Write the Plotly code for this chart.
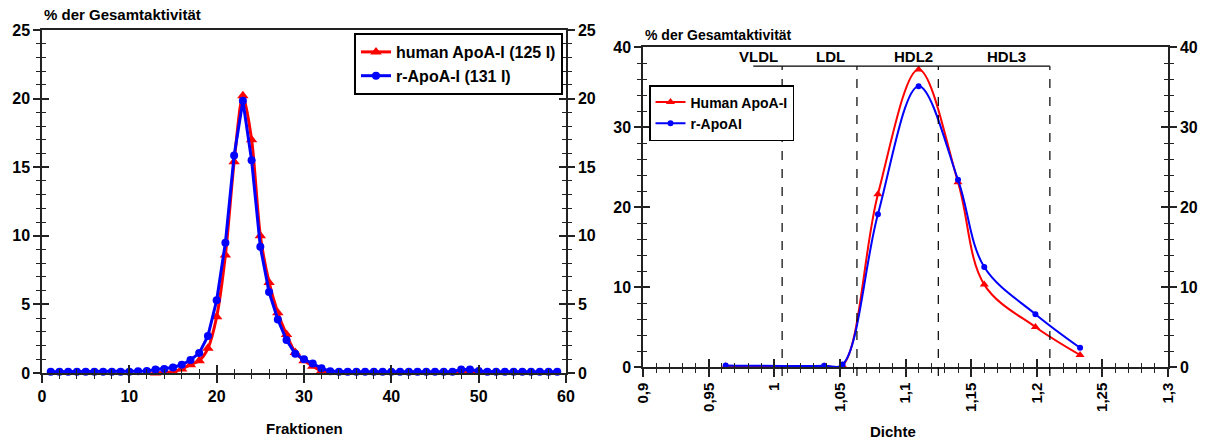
import plotly.graph_objects as go

# ---------------- data ----------------
fractions = list(range(1, 60))
human_125 = [-0.1]*12 + [0.0, 0.05, 0.1, 0.3, 0.6, 0.9, 1.8, 4.1, 8.6, 15.4, 20.2, 17.0, 10.0,
                         6.6, 4.4, 2.8, 1.5, 0.9, 0.5, 0.15] + [-0.05]*15 + [0.05, 0.1, 0.05] + [-0.1]*9
r_131 = [0.1]*10 + [0.12, 0.15, 0.25, 0.3, 0.4, 0.6, 0.95, 1.45, 2.7, 5.3, 9.5, 15.85, 19.85, 15.5,
                    9.2, 5.9, 3.9, 2.4, 1.4, 1.0, 0.7, 0.35, 0.12] + [0.1]*14 + [0.25, 0.25, 0.15] + [0.1]*9

density = [0.963, 1.038, 1.052, 1.079, 1.110, 1.140, 1.160, 1.199, 1.233]
human_apoai = [0.1, 0.1, 0.2, 21.6, 37.2, 23.1, 10.3, 5.0, 1.5]
r_apoai = [0.2, 0.15, 0.3, 19.1, 35.1, 23.4, 12.5, 6.6, 2.4]

class_bounds = [1.006, 1.063, 1.125, 1.21]
class_names = ["VLDL", "LDL", "HDL2", "HDL3"]
class_label_x = [0.988, 1.043, 1.106, 1.177]
bracket_start = 0.984
bracket_y = 37.6
label_y = 38.8

dichte_tickvals = [0.9, 0.95, 1.0, 1.05, 1.1, 1.15, 1.2, 1.25, 1.3]
dichte_ticktext = ["0,9", "0,95", "1", "1,05", "1,1", "1,15", "1,2", "1,25", "1,3"]

# ---------------- layout geometry ----------------
W, H = 1209, 439
FONT = "Liberation Sans"
RED, BLUE = "#ff0000", "#0000ff"
AX = "#222222"

L_dom_x = [42 / W, 566 / W]
L_dom_y = [1 - 373 / H, 1 - 30 / H]
R_dom_x = [643 / W, 1168 / W]
R_dom_y = [1 - 367 / H, 1 - 47 / H]

fig = go.Figure()

# left panel traces
fig.add_trace(go.Scatter(x=fractions, y=human_125, mode="lines+markers", name="human ApoA-I (125 I)",
                         line=dict(color=RED, width=3, shape="spline", smoothing=0.8),
                         marker=dict(symbol="triangle-up", size=10, color=RED),
                         cliponaxis=False, xaxis="x", yaxis="y", legend="legend", legendgroup="a"))
fig.add_trace(go.Scatter(x=fractions, y=r_131, mode="lines+markers", name="r-ApoA-I (131 I)",
                         line=dict(color=BLUE, width=3),
                         marker=dict(symbol="circle", size=8, color=BLUE),
                         cliponaxis=False, xaxis="x", yaxis="y", legend="legend", legendgroup="b"))

# right panel traces
fig.add_trace(go.Scatter(x=density, y=human_apoai, mode="lines+markers", name="Human ApoA-I",
                         line=dict(color=RED, width=2, shape="spline", smoothing=1.0),
                         marker=dict(symbol="triangle-up", size=8, color=RED),
                         cliponaxis=False, xaxis="x2", yaxis="y2", legend="legend2", legendgroup="c"))
fig.add_trace(go.Scatter(x=density, y=r_apoai, mode="lines+markers", name="r-ApoAI",
                         line=dict(color=BLUE, width=2, shape="spline", smoothing=1.0),
                         marker=dict(symbol="circle", size=6, color=BLUE),
                         cliponaxis=False, xaxis="x2", yaxis="y2", legend="legend2", legendgroup="d"))

tickfont = dict(family=FONT, size=16, color="black", weight="bold")
common = dict(showgrid=False, zeroline=False, linecolor=AX, linewidth=1.5, tickcolor=AX,
              tickwidth=1.5, automargin=False)


def xpair(dom, rng, dtick, mdtick, anchor, tickvals=None, ticktext=None, tickangle=None, tsize=16):
    base = dict(common, domain=dom, range=rng, anchor=anchor, showline=True, mirror=True,
                ticks="outside", ticklen=8,
                minor=dict(ticks="outside", ticklen=4, dtick=mdtick, tickcolor=AX, tickwidth=1.2),
                tickfont=dict(tickfont, size=tsize))
    if tickvals is not None:
        base.update(tickmode="array", tickvals=tickvals, ticktext=ticktext)
    else:
        base.update(dtick=dtick, tick0=0)
    if tickangle is not None:
        base["tickangle"] = tickangle
    inner = dict(common, domain=dom, range=rng, anchor=anchor, showline=False,
                 ticks="inside", ticklen=8, dtick=dtick, tick0=rng[0] if tickvals else 0,
                 showticklabels=False,
                 minor=dict(ticks="inside", ticklen=4, dtick=mdtick, tickcolor=AX, tickwidth=1.2))
    return base, inner


def ypair(dom, rng, dtick, mdtick, anchor, side):
    out = dict(common, domain=dom, range=rng, anchor=anchor, side=side, showline=True,
               ticks="outside", ticklen=7, dtick=dtick, tick0=0, tickfont=tickfont,
               minor=dict(ticks="outside", ticklen=4, dtick=mdtick, tickcolor=AX, tickwidth=1.2))
    inn = dict(common, domain=dom, range=rng, anchor=anchor, side=side, showline=False,
               ticks="inside", ticklen=7, dtick=dtick, tick0=0, showticklabels=False,
               minor=dict(ticks="inside", ticklen=4, dtick=mdtick, tickcolor=AX, tickwidth=1.2))
    return out, inn


# left panel axes
lx, lx_in = xpair(L_dom_x, [0, 60], 10, 2, "y")
ly, ly_in = ypair(L_dom_y, [0, 25], 5, 1, "x", "left")
lyr, lyr_in = ypair(L_dom_y, [0, 25], 5, 1, "x", "right")
ly["mirror"] = True
# right panel axes
rx, rx_in = xpair(R_dom_x, [0.9, 1.3], 0.05, 0.01, "y2", dichte_tickvals, dichte_ticktext, -90, 15)
rx_in["dtick"] = 0.05
rx_in["tick0"] = 0.9
ry, ry_in = ypair(R_dom_y, [0, 40], 10, 2, "x2", "left")
ryr, ryr_in = ypair(R_dom_y, [0, 40], 10, 2, "x2", "right")
ry["mirror"] = True

lx_in["overlaying"] = "x"
ly_in["overlaying"] = "y"
lyr["overlaying"] = "y"
lyr_in["overlaying"] = "y"
rx_in["overlaying"] = "x2"
ry_in["overlaying"] = "y2"
ryr["overlaying"] = "y2"
ryr_in["overlaying"] = "y2"

fig.update_layout(
    xaxis=lx, xaxis3=lx_in,
    yaxis=ly, yaxis3=ly_in, yaxis4=lyr, yaxis5=lyr_in,
    xaxis2=rx, xaxis4=rx_in,
    yaxis2=ry, yaxis6=ry_in, yaxis7=ryr, yaxis8=ryr_in,
)

# dummy empty traces so overlay axes are drawn
for xa, ya in [("x3", "y"), ("x", "y3"), ("x", "y4"), ("x", "y5"),
               ("x4", "y2"), ("x2", "y6"), ("x2", "y7"), ("x2", "y8")]:
    fig.add_trace(go.Scatter(x=[], y=[], xaxis=xa, yaxis=ya, showlegend=False, hoverinfo="skip"))

# class boundaries (dashed) and bracket
def y2paper(v):
    return R_dom_y[0] + v / 40 * (R_dom_y[1] - R_dom_y[0])

shapes = []
for b in class_bounds:
    shapes.append(dict(type="line", xref="x2", yref="paper", x0=b, x1=b,
                       y0=R_dom_y[0] - 9 / H, y1=y2paper(bracket_y),
                       line=dict(color="black", width=1.2, dash="dash")))
shapes.append(dict(type="line", xref="x2", yref="y2", x0=bracket_start, x1=class_bounds[-1],
                   y0=bracket_y, y1=bracket_y, line=dict(color="black", width=1.3)))
fig.update_layout(shapes=shapes)

ann = []
for name, xl in zip(class_names, class_label_x):
    ann.append(dict(x=xl, y=label_y, xref="x2", yref="y2", text=name, showarrow=False,
                    font=dict(family=FONT, size=15, color="black", weight="bold")))
# axis titles
ann.append(dict(x=42 / W, y=1 - 15 / H, xref="paper", yref="paper", text="% der Gesamtaktivität",
                showarrow=False, xanchor="left", yanchor="middle",
                font=dict(family=FONT, size=15, color="black", weight="bold")))
ann.append(dict(x=643 / W, y=1 - 35 / H, xref="paper", yref="paper", text="% der Gesamtaktivität",
                showarrow=False, xanchor="left", yanchor="middle",
                font=dict(family=FONT, size=14, color="black", weight="bold")))
ann.append(dict(x=304 / W, y=1 - 428 / H, xref="paper", yref="paper", text="Fraktionen",
                showarrow=False, xanchor="center", yanchor="middle",
                font=dict(family=FONT, size=15, color="black", weight="bold")))
ann.append(dict(x=893 / W, y=1 - 431 / H, xref="paper", yref="paper", text="Dichte",
                showarrow=False, xanchor="center", yanchor="middle",
                font=dict(family=FONT, size=15, color="black", weight="bold")))
fig.update_layout(annotations=ann)

fig.update_layout(
    width=W, height=H,
    margin=dict(l=0, r=0, t=0, b=0),
    paper_bgcolor="white", plot_bgcolor="white",
    font=dict(family=FONT, color="black"),
    legend=dict(x=354 / W, y=1 - 33 / H, xanchor="left", yanchor="top",
                bordercolor="black", borderwidth=2, bgcolor="white",
                font=dict(family=FONT, size=16, color="black", weight="bold"),
                traceorder="grouped", tracegroupgap=0, itemwidth=30),
    legend2=dict(x=649 / W, y=1 - 85 / H, xanchor="left", yanchor="top",
                 bordercolor="black", borderwidth=1.5, bgcolor="white",
                 font=dict(family=FONT, size=14, color="black", weight="bold"),
                 traceorder="grouped", tracegroupgap=0, itemwidth=30),
)

fig.write_html("out.html", config={"displayModeBar": False},
               post_script="document.body.style.margin='0';document.body.style.overflow='hidden';")
